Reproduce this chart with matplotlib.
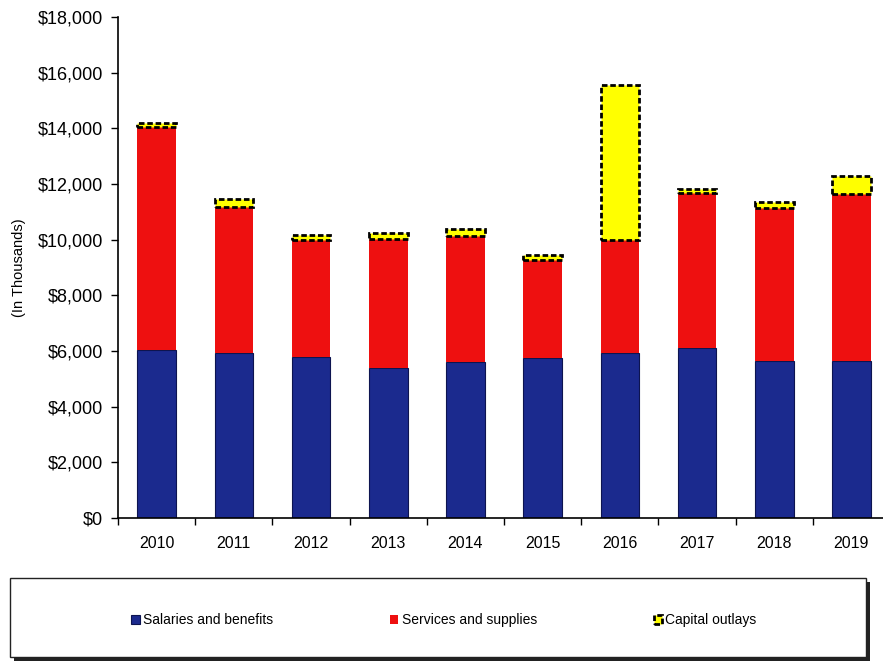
import numpy as np
import matplotlib.pyplot as plt
from matplotlib.patches import Rectangle

plt.rcParams['font.family'] = ['Liberation Sans', 'DejaVu Sans']

# Gastos anuales (en miles de dólares)
anios = ['2010', '2011', '2012', '2013', '2014', '2015', '2016', '2017', '2018', '2019']
salarios = [6040, 5920, 5800, 5400, 5620, 5760, 5940, 6100, 5650, 5650]
servicios = [8010, 5250, 4190, 4630, 4510, 3510, 4050, 5580, 5490, 5990]
capital = [140, 290, 180, 210, 250, 180, 5570, 140, 210, 650]

azul = '#1b2a8e'
rojo = '#ee1010'
amarillo = '#ffff00'

fig = plt.figure(figsize=(8.83, 6.63), dpi=100)
ax = fig.add_axes([118 / 883, 145 / 663, 772 / 883, 501 / 663])

x = np.arange(len(anios))
ancho = 0.5
base2 = np.array(salarios)
base3 = base2 + np.array(servicios)

ax.bar(x, salarios, ancho, color=azul, edgecolor='#0d1450', linewidth=0.8,
       label='Salaries and benefits', zorder=2)
ax.bar(x, servicios, ancho, bottom=base2, color=rojo, linewidth=0,
       label='Services and supplies', zorder=2)
ax.bar(x, capital, ancho, bottom=base3, color=amarillo, edgecolor='black',
       linewidth=2, linestyle=(0, (2, 1)), label='Capital outlays', zorder=3)

ax.set_xlim(-0.5, len(anios) - 0.5)
ax.set_ylim(0, 18000)
ax.set_yticks(np.arange(0, 18001, 2000))
ax.set_yticklabels(['${:,}'.format(v) for v in range(0, 18001, 2000)], fontsize=13)
ax.set_xticks(x)
ax.set_xticklabels(anios, fontsize=11.5)
ax.set_xticks(np.arange(-0.5, len(anios), 1), minor=True)
ax.tick_params(axis='x', which='major', length=0, pad=13)
ax.tick_params(axis='x', which='minor', length=5, direction='out', width=1)
ax.tick_params(axis='y', length=5, direction='out', width=1, pad=6)

for lado in ['top', 'right']:
    ax.spines[lado].set_visible(False)
ax.spines['left'].set_linewidth(1.2)
ax.spines['bottom'].set_linewidth(1.2)

ax.set_ylabel('(In Thousands)', fontsize=10.5, labelpad=8)

# Recuadro de la leyenda con sombra
sombra = Rectangle((14 / 883, 2 / 663), 856 / 883, 79 / 663, transform=fig.transFigure,
                   facecolor='#222222', edgecolor='none', zorder=0)
marco = Rectangle((10 / 883, 6 / 663), 856 / 883, 79 / 663, transform=fig.transFigure,
                  facecolor='white', edgecolor='#222222', linewidth=1, zorder=1)
fig.patches.extend([sombra, marco])

h, l = ax.get_legend_handles_labels()
leg = fig.legend(h, l, loc='center', bbox_to_anchor=(444 / 883, 43 / 663), ncol=3,
                 frameon=False, fontsize=10, handlelength=0.6, handleheight=0.6,
                 handletextpad=0.25, columnspacing=8.4)
leg.set_zorder(5)

fig.savefig('out.png', dpi=100)
